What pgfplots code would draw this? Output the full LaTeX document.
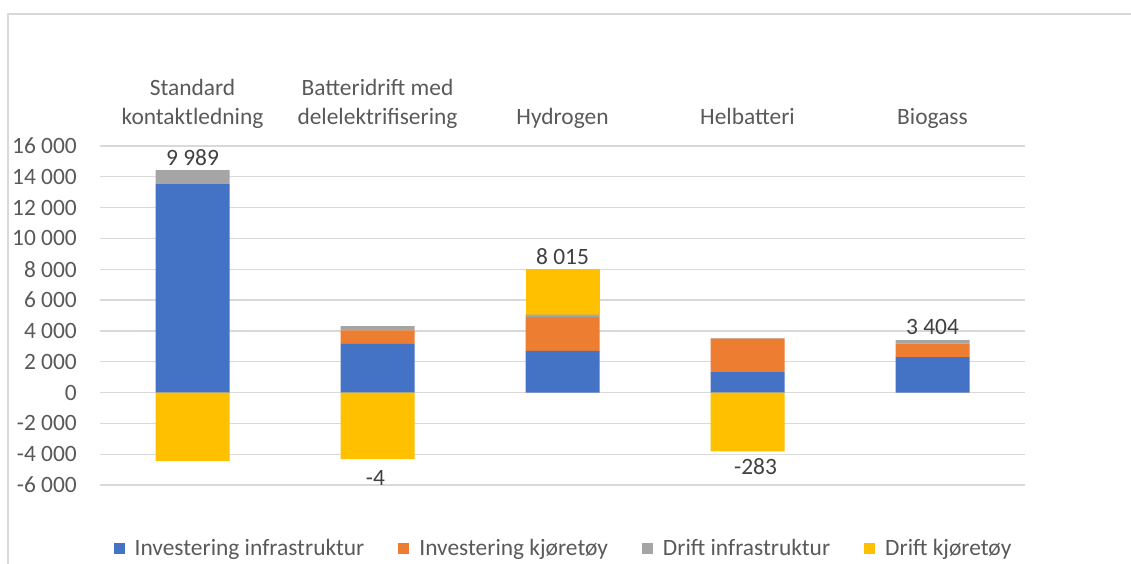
\documentclass[border=0pt]{standalone}
\usepackage{fontspec}
\setmainfont{Carlito}
\usepackage{pgfplots}
\pgfplotsset{compat=1.18}
\definecolor{cBlue}{HTML}{4472C4}
\definecolor{cOrange}{HTML}{ED7D31}
\definecolor{cGray}{HTML}{A5A5A5}
\definecolor{cYellow}{HTML}{FFC000}
\definecolor{gridGray}{HTML}{D9D9D9}
\definecolor{tickGray}{HTML}{595959}
\definecolor{labGray}{HTML}{404040}
\newcommand{\chartfont}{\fontsize{23.5}{29}\selectfont}
\pgfplotsset{
  base/.style={
    at={(100bp,79bp)}, anchor=south west,
    scale only axis, width=925bp, height=339bp,
    ybar stacked, bar width=74bp,
    xmin=-0.5, xmax=4.5, ymin=-6000, ymax=16000,
  }
}
\begin{document}
\begin{tikzpicture}[x=1bp,y=1bp]
\useasboundingbox (0,0) rectangle (1131,564);
\draw[gridGray, line width=2bp] (8,0) -- (8,550) -- (1131,550);
\begin{axis}[
  base,
  ytick={-6000,-4000,...,16000},
  scaled y ticks=false,
  xtick={0,1,2,3,4},
  xticklabels={{Standard\\kontaktledning},{Batteridrift med\\delelektrifisering},{Hydrogen},{Helbatteri},{Biogass}},
  xticklabel pos=right,
  xticklabel style={align=center, text depth=0.25em, inner sep=0pt, yshift=18.5bp, font=\chartfont, text=tickGray},
  yticklabel style={inner sep=0pt, xshift=-23bp, font=\chartfont, text=tickGray,
    /pgf/number format/.cd, fixed, 1000 sep={\ }, assume math mode=true},
  ymajorgrids, grid style={gridGray, line width=1.3bp},
  axis line style={draw=none}, major tick length=0pt,
  legend columns=4,
  legend style={at={(0.5,-0.186)}, anchor=center, draw=none, fill=none,
    font=\chartfont, text=tickGray, nodes={inner xsep=0pt},
    /tikz/every odd column/.append style={column sep=10bp},
    /tikz/every even column/.append style={column sep=34bp}},
  legend image code/.code={\fill[#1] (0bp,-5.5bp) rectangle (11bp,5.5bp);},
]
\addplot[fill=cBlue, draw=none] coordinates {(0,13550) (1,3150) (2,2700) (3,1330) (4,2300)};
\addlegendentry{Investering infrastruktur}
\addplot[fill=cOrange, draw=none] coordinates {(0,0) (1,880) (2,2200) (3,2170) (4,870)};
\addlegendentry{Investering kjøretøy}
\addplot[fill=cGray, draw=none] coordinates {(0,890) (1,280) (2,150) (3,30) (4,234)};
\addlegendentry{Drift infrastruktur}
\addplot[fill=cYellow, draw=none] coordinates {(0,0) (1,0) (2,2965) (3,0) (4,0)};
\addlegendentry{Drift kjøretøy}
\node[anchor=base, inner sep=0pt, yshift=5bp, font=\chartfont, text=labGray] at (axis cs:0,14440) {9 989};
\node[anchor=base, inner sep=0pt, yshift=5bp, font=\chartfont, text=labGray] at (axis cs:2,8015) {8 015};
\node[anchor=base, inner sep=0pt, yshift=6bp, font=\chartfont, text=labGray] at (axis cs:4,3404) {3 404};
\end{axis}
\begin{axis}[base, hide axis]
\addplot[fill=cYellow, draw=none] coordinates {(0,-4451) (1,-4314) (2,0) (3,-3813) (4,0)};
\node[anchor=north, inner sep=0pt, yshift=-11bp, xshift=-2bp, font=\chartfont, text=labGray] at (axis cs:1,-4314) {-4};
\node[anchor=north, inner sep=0pt, yshift=-7bp, xshift=8bp, font=\chartfont, text=labGray] at (axis cs:3,-3813) {-283};
\end{axis}
\end{tikzpicture}
\end{document}
